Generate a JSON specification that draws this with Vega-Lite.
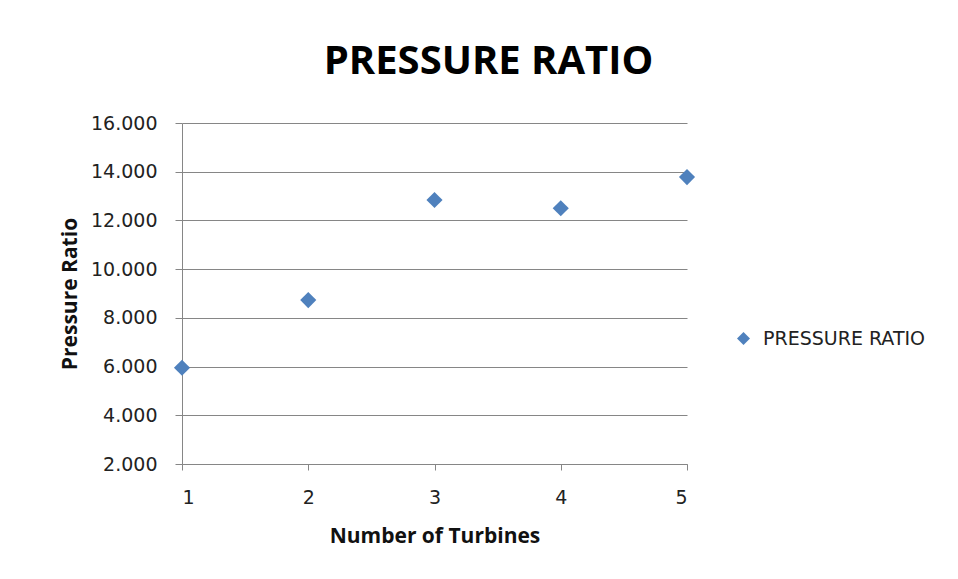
{
  "$schema": "https://vega.github.io/schema/vega-lite/v6.json",
  "width": 505,
  "height": 341,
  "autosize": "none",
  "padding": {"left": 182, "top": 123, "right": 271, "bottom": 115},
  "background": "white",
  "title": {
    "text": "PRESSURE RATIO",
    "font": "Liberation Sans Narrow, Open Sans",
    "fontSize": 40,
    "fontWeight": "bold",
    "color": "#000000",
    "anchor": "middle",
    "dx": 54,
    "offset": 32
  },
  "data": {
    "values": [
      {"turbines": 1, "ratio": 5.95, "series": "PRESSURE RATIO"},
      {"turbines": 2, "ratio": 8.73, "series": "PRESSURE RATIO"},
      {"turbines": 3, "ratio": 12.84, "series": "PRESSURE RATIO"},
      {"turbines": 4, "ratio": 12.5, "series": "PRESSURE RATIO"},
      {"turbines": 5, "ratio": 13.78, "series": "PRESSURE RATIO"}
    ]
  },
  "mark": {"type": "point", "shape": "diamond", "filled": true, "size": 260, "opacity": 1},
  "encoding": {
    "x": {
      "field": "turbines",
      "type": "quantitative",
      "scale": {"domain": [1, 5], "nice": false, "zero": false},
      "axis": {
        "title": "Number of Turbines",
        "values": [1, 2, 3, 4, 5],
        "format": "d",
        "grid": false,
        "domainColor": "#868686",
        "tickColor": "#868686",
        "tickSize": 6,
        "labelPadding": 18,
        "labelFont": "DejaVu Sans",
        "labelFontSize": 19,
        "labelColor": "#222222",
        "titleFont": "Open Sans",
        "titleFontSize": 21,
        "titleFontWeight": "bold",
        "titleColor": "#111111",
        "titlePadding": 18
      }
    },
    "y": {
      "field": "ratio",
      "type": "quantitative",
      "scale": {"domain": [2, 16], "nice": false, "zero": false},
      "axis": {
        "title": "Pressure Ratio",
        "values": [2, 4, 6, 8, 10, 12, 14, 16],
        "format": ".3f",
        "grid": true,
        "gridColor": "#868686",
        "domainColor": "#868686",
        "tickColor": "#868686",
        "tickSize": 7,
        "labelPadding": 18,
        "labelFont": "DejaVu Sans",
        "labelFontSize": 19,
        "labelColor": "#222222",
        "titleFont": "Open Sans",
        "titleFontSize": 21,
        "titleFontWeight": "bold",
        "titleColor": "#111111",
        "titlePadding": 10
      }
    },
    "color": {
      "field": "series",
      "type": "nominal",
      "scale": {"range": ["#4F81BD"]},
      "legend": {
        "title": null,
        "orient": "none",
        "legendX": 552,
        "legendY": 206,
        "symbolType": "diamond",
        "symbolSize": 170,
        "labelOffset": 10,
        "labelLimit": 300,
        "labelFont": "DejaVu Sans",
        "labelFontSize": 19,
        "labelColor": "#222222"
      }
    }
  },
  "config": {"view": {"stroke": null}}
}
